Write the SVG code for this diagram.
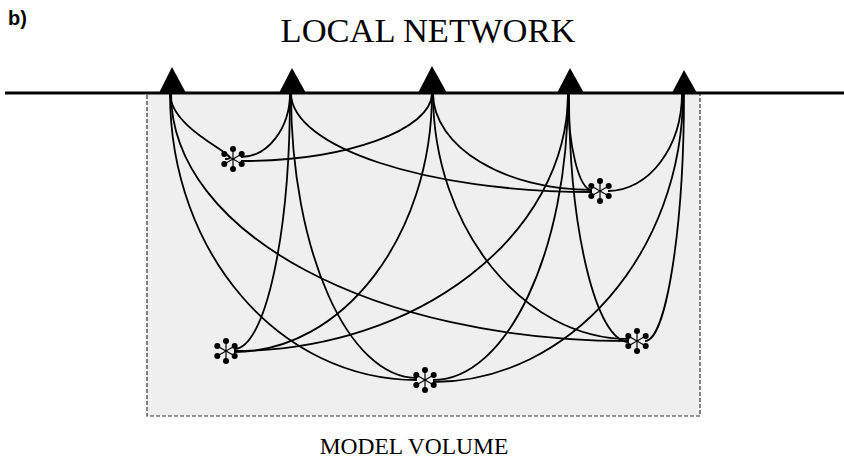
<svg xmlns="http://www.w3.org/2000/svg" width="844" height="463" viewBox="0 0 844 463">
<style>
.ray{fill:none;stroke:#000;stroke-width:1.8}
.sta{fill:#000}
.title{font-family:"Liberation Serif","Times New Roman",serif;fill:#000}
.lbl{font-family:"Liberation Sans",Arial,sans-serif;font-weight:bold;fill:#000}
</style>
<defs>
<g id="star">
<g stroke="#000" stroke-width="1.2">
<line x1="0" y1="-10" x2="0" y2="10"/>
<line x1="-8.7" y1="-5" x2="8.7" y2="5"/>
<line x1="-8.7" y1="5" x2="8.7" y2="-5"/>
</g>
<g fill="#000">
<circle cx="0" cy="-10" r="3"/>
<circle cx="0" cy="10" r="3"/>
<circle cx="-8.7" cy="-5" r="3"/>
<circle cx="8.7" cy="-5" r="3"/>
<circle cx="-8.7" cy="5" r="3"/>
<circle cx="8.7" cy="5" r="3"/>
</g>
</g>
</defs>
<rect width="844" height="463" fill="#fff"/>
<text class="lbl" x="8" y="25" font-size="20">b)</text>
<text class="title" x="428" y="42" font-size="34.5" text-anchor="middle">LOCAL NETWORK</text>
<g id="model-volume">
<rect x="147" y="93" width="553" height="323" fill="#efefef" stroke="#333" stroke-width="1.2" stroke-dasharray="4,2"/>
<text class="title" x="414" y="454" font-size="23.5" text-anchor="middle">MODEL VOLUME</text>
</g>
<g id="connectors">
<path class="ray" d="M170,93 C170,132 250,159 225,159"/>
<path class="ray" d="M170,93 C170,255 281,380 417,380"/>
<path class="ray" d="M171,93 C171,235 377,341 629,341"/>
<path class="ray" d="M290,93 C290,128 268,157 241,157"/>
<path class="ray" d="M291,93 C291,147 426,192 592,192"/>
<path class="ray" d="M290,93 C290,236 265,349 234,349"/>
<path class="ray" d="M291,93 C291,251 348,378 417,378"/>
<path class="ray" d="M432,93 C432,130 346,161 241,161"/>
<path class="ray" d="M433,93 C433,147 505,190 592,190"/>
<path class="ray" d="M432,93 C432,236 343,352 234,352"/>
<path class="ray" d="M433,93 C433,229 524,339 629,339"/>
<path class="ray" d="M568,93 C568,146 579,190 592,190"/>
<path class="ray" d="M568,93 C568,235 418,351 234,351"/>
<path class="ray" d="M568,93 C568,251 507,380 433,380"/>
<path class="ray" d="M569,93 C569,229 596,342 629,342"/>
<path class="ray" d="M682,93 C682,147 649,191 608,191"/>
<path class="ray" d="M683,93 C683,252 570,382 433,382"/>
<path class="ray" d="M684,93 C684,229 666,341 645,341"/>
</g>
<line x1="5" y1="93" x2="844" y2="93" stroke="#000" stroke-width="3"/>
<g id="station1"><polygon class="sta" points="172,67 159,93 186,93"/></g>
<g id="station2"><polygon class="sta" points="292,68 279,93 306,93"/></g>
<g id="station3"><polygon class="sta" points="432,66 418,93 447,93"/></g>
<g id="station4"><polygon class="sta" points="570,68 557,93 584,93"/></g>
<g id="station5"><polygon class="sta" points="684,70 672,93 697,93"/></g>
<g id="event1"><use href="#star" x="233" y="159"/></g>
<g id="event2"><use href="#star" x="600" y="191"/></g>
<g id="event3"><use href="#star" x="226" y="351"/></g>
<g id="event4"><use href="#star" x="425" y="380"/></g>
<g id="event5"><use href="#star" x="637" y="341"/></g>
</svg>
